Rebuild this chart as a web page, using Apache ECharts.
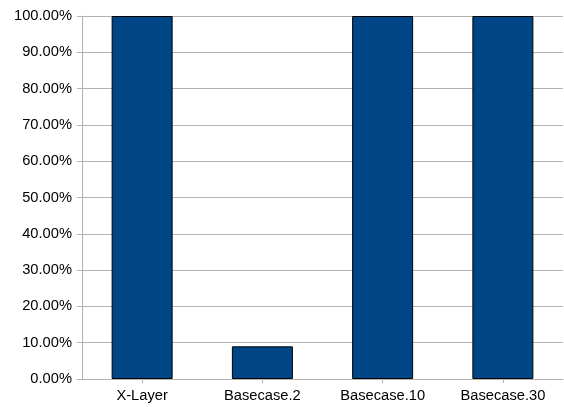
<!DOCTYPE html>
<html>
<head>
<meta charset="utf-8">
<style>
  html, body { margin: 0; padding: 0; background: #ffffff; }
  #chart { width: 564px; height: 407px; }
</style>
<script src="https://cdn.jsdelivr.net/npm/echarts@6/dist/echarts.min.js"></script>
</head>
<body>
<div id="chart"></div>
<script>
// Share of cases per configuration (percent)
const categories = ['X-Layer', 'Basecase.2', 'Basecase.10', 'Basecase.30'];
const shareValues = [100, 9, 100, 100];

const chart = echarts.init(document.getElementById('chart'), null, { renderer: 'canvas' });

chart.setOption({
  animation: false,
  backgroundColor: '#ffffff',
  textStyle: { fontFamily: 'Liberation Sans, Arial, sans-serif' },
  grid: { left: 82, right: 1, top: 16, bottom: 28, containLabel: false },
  xAxis: {
    type: 'category',
    data: categories,
    axisLine: { show: true, lineStyle: { color: '#b3b3b3', width: 1 } },
    axisTick: { show: true, alignWithLabel: true, length: 4, lineStyle: { color: '#b3b3b3' } },
    axisLabel: { color: '#000000', fontSize: 14.7, margin: 9, fontFamily: 'Liberation Sans, Arial, sans-serif' },
    splitLine: { show: false }
  },
  yAxis: {
    type: 'value',
    min: 0,
    max: 100,
    interval: 10,
    axisLine: { show: true, lineStyle: { color: '#b3b3b3', width: 1 } },
    axisTick: { show: true, length: 5, lineStyle: { color: '#b3b3b3' } },
    axisLabel: {
      color: '#000000',
      fontSize: 14.7,
      margin: 10,
      fontFamily: 'Liberation Sans, Arial, sans-serif',
      formatter: v => v.toFixed(2) + '%'
    },
    splitLine: { show: true, lineStyle: { color: '#b3b3b3', width: 1 } }
  },
  series: [{
    type: 'bar',
    data: shareValues,
    barWidth: 61,
    itemStyle: { color: '#004586', borderColor: '#000000', borderWidth: 1 }
  }]
});
</script>
</body>
</html>
